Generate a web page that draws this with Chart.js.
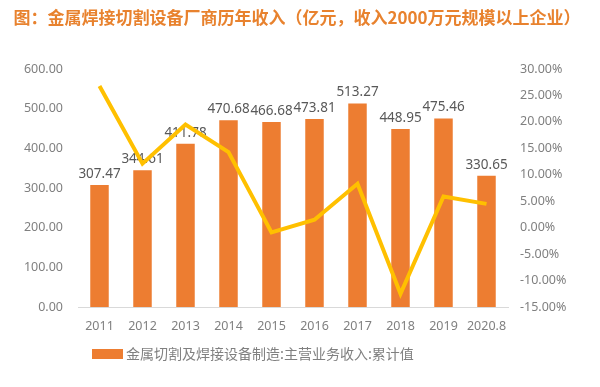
<!DOCTYPE html>
<html>
<head>
<meta charset="utf-8">
<script src="https://cdn.jsdelivr.net/npm/chart.js@4/dist/chart.umd.min.js"></script>
<style>
  body { margin: 0; background: #fff; }
</style>
</head>
<body>
<canvas id="chart" width="600" height="387"></canvas>
<script>
// data
const years = ['2011', '2012', '2013', '2014', '2015', '2016', '2017', '2018', '2019', '2020.8'];
const revenue = [307.47, 344.61, 411.78, 470.68, 466.68, 473.81, 513.27, 448.95, 475.46, 330.65];
const growth = [26.8, 12.1, 19.5, 14.3, -0.9, 1.5, 8.3, -12.5, 5.9, 4.5];
const leftRange = [0, 600, 100];
const rightRange = [-15, 30, 5];

const titleText = '图：金属焊接切割设备厂商历年收入（亿元，收入2000万元规模以上企业）';
const legendText = '金属切割及焊接设备制造:主营业务收入:累计值';

const barColor = '#ED7D31';
const lineColor = '#FFC000';
const tickColor = '#808080';
const font = '"Noto Sans", "Noto Sans CJK SC", sans-serif';

// value labels above the bars, drawn before the line so the line sits on top
const barLabels = {
  id: 'barLabels',
  afterDatasetDraw(chart, args) {
    if (args.index !== 0) return;
    const ctx = chart.ctx;
    ctx.save();
    ctx.font = '13.5px ' + font;
    ctx.fillStyle = '#595959';
    ctx.textAlign = 'center';
    ctx.textBaseline = 'bottom';
    args.meta.data.forEach((bar, i) => {
      ctx.fillText(revenue[i].toFixed(2), bar.x, bar.y - 4);
    });
    ctx.restore();
  }
};

// title and legend
const decorations = {
  id: 'decorations',
  afterDraw(chart) {
    const ctx = chart.ctx;
    ctx.save();
    ctx.font = 'bold 17px "Noto Sans CJK SC", sans-serif';
    ctx.fillStyle = '#E8822E';
    ctx.textAlign = 'center';
    ctx.textBaseline = 'middle';
    ctx.fillText(titleText, 297, 18);

    ctx.fillStyle = barColor;
    ctx.fillRect(92, 349, 31, 10);
    ctx.font = '14px "Noto Sans CJK SC", sans-serif';
    ctx.fillStyle = tickColor;
    ctx.textAlign = 'left';
    ctx.fillText(legendText, 126, 354);
    ctx.restore();
  }
};

new Chart(document.getElementById('chart'), {
  data: {
    labels: years,
    datasets: [
      {
        type: 'bar',
        data: revenue,
        backgroundColor: barColor,
        barPercentage: 0.43,
        categoryPercentage: 1,
        yAxisID: 'y',
        order: 1
      },
      {
        type: 'line',
        data: growth,
        borderColor: lineColor,
        borderWidth: 4,
        pointRadius: 0,
        tension: 0,
        yAxisID: 'y1',
        order: 0
      }
    ]
  },
  options: {
    responsive: false,
    animation: false,
    layout: { padding: { top: 69, bottom: 56, left: 0, right: 0 } },
    plugins: {
      legend: { display: false },
      title: { display: false },
      tooltip: { enabled: false }
    },
    scales: {
      x: {
        grid: { display: false },
        border: { color: '#d9d9d9', width: 1 },
        ticks: {
          color: tickColor,
          font: { family: font, size: 12.5 },
          padding: 4,
          maxRotation: 0,
          autoSkip: false
        },
        afterFit(scale) { scale.height = 24; }
      },
      y: {
        position: 'left',
        min: leftRange[0],
        max: leftRange[1],
        grid: { display: false, drawTicks: false },
        border: { display: false },
        ticks: {
          stepSize: leftRange[2],
          color: tickColor,
          font: { family: font, size: 12.5 },
          padding: 15,
          callback: v => v.toFixed(2)
        },
        afterFit(scale) { scale.width = 78; }
      },
      y1: {
        position: 'right',
        min: rightRange[0],
        max: rightRange[1],
        grid: { display: false, drawTicks: false },
        border: { display: false },
        ticks: {
          stepSize: rightRange[2],
          color: tickColor,
          font: { family: font, size: 12.5 },
          padding: 12,
          callback: v => v.toFixed(2) + '%'
        },
        afterFit(scale) { scale.width = 92; }
      }
    }
  },
  plugins: [barLabels, decorations]
});
</script>
</body>
</html>
